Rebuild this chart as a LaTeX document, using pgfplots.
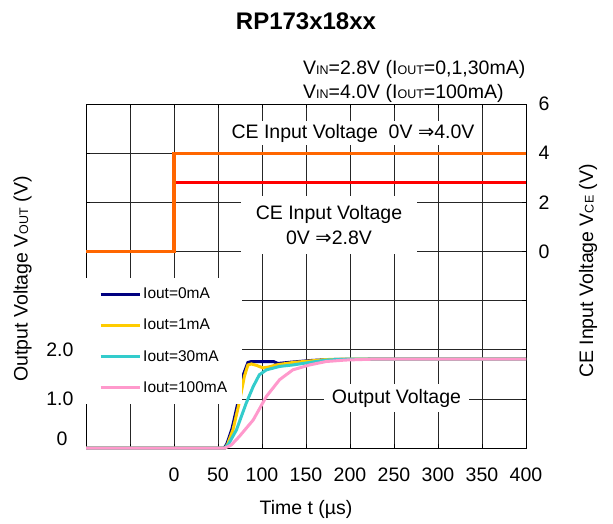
\documentclass[border=0pt]{standalone}
\usepackage{fontspec}
\setmainfont{Liberation Sans}
\newfontfamily\dejavu{DejaVu Sans}
\usepackage{pgfplots}
\pgfplotsset{compat=1.18}

\definecolor{ceorange}{RGB}{255,102,0}
\definecolor{cered}{RGB}{255,0,0}
\definecolor{ioutA}{RGB}{0,0,128}
\definecolor{ioutB}{RGB}{255,204,0}
\definecolor{ioutC}{RGB}{51,204,204}
\definecolor{ioutD}{RGB}{255,153,204}

\newcommand\sub[1]{\raisebox{-0.5pt}{\fontsize{12.5}{12.5}\selectfont #1}}
\newcommand\arr{{\dejavu ⇒}}
\newcommand\mainfs{\fontsize{19.5}{22}\selectfont}

\begin{document}
\begin{tikzpicture}
\path[use as bounding box] (0pt,0pt) rectangle (613pt,523pt);

% CE input voltage (right axis) with the grid
\begin{axis}[
  at={(86pt,75pt)}, anchor=south west,
  width=440pt, height=344pt, scale only axis,
  xmin=-100, xmax=400, ymin=-8, ymax=6,
  xtick={-100,-50,...,400},
  xticklabels={,,0,50,100,150,200,250,300,350,400},
  ytick={-8,-6,...,6},
  yticklabels={,,,,0,2,4,6},
  yticklabel pos=right,
  /pgf/number format/assume math mode=true,
  ticklabel style={font=\mainfs},
  xticklabel style={yshift=-16pt},
  yticklabel style={xshift=9pt},
  grid=major,
  major grid style={black!85, line width=0.7pt},
  major tick length=4pt,
  tick style={black, line width=0.7pt},
  axis line style={black, line width=1pt},
  clip=false,
]
\addplot[cered, line width=3.2pt] coordinates {(-100,0) (0,0) (0,2.8) (400,2.8)};
\addplot[ceorange, line width=3.2pt] coordinates {(-100,0) (0,0) (0,4) (400,4)};
\end{axis}

% text boxes over the grid
\node[fill=white, inner xsep=4pt, inner ysep=3pt, font=\mainfs] at (353pt,390pt) {CE Input Voltage\ \ 0V \arr4.0V};
\node[fill=white, minimum width=176pt, minimum height=58pt, align=center, font=\mainfs] at (329pt,298pt)
  {CE Input Voltage\\[3pt]0V \arr2.8V};
\node[fill=white, inner xsep=8pt, inner ysep=5pt, font=\mainfs] at (396.5pt,125pt) {Output Voltage};

% output voltage (left axis)
\begin{axis}[
  at={(86pt,75pt)}, anchor=south west,
  width=440pt, height=344pt, scale only axis,
  xmin=-100, xmax=400, ymin=0, ymax=7,
  xtick=\empty,
  ytick={1,2}, yticklabels={1.0,2.0},
  extra y ticks={0}, extra y tick labels={0},
  extra y tick style={yticklabel style={yshift=9pt, xshift=-6pt}},
  /pgf/number format/assume math mode=true,
  ticklabel style={font=\mainfs},
  yticklabel style={xshift=-9pt},
  axis line style={draw=none},
  tick style={draw=none},
  clip=false,
  legend cell align=left,
  legend style={at={(0,0.495)}, anchor=north west, fill=white, draw=none,
    font=\fontsize{15.5}{15.5}\selectfont, row sep=15pt, inner xsep=13pt, inner ysep=8pt},
  legend image code/.code={\draw[#1] (0pt,0pt) -- (39pt,0pt);},
]
\addplot[ioutA, line width=3pt] coordinates {
  (-100,0) (57,0) (60,0.08) (66,0.40) (73,0.95) (79,1.50) (84,1.74) (88,1.76)
  (113,1.76) (118,1.72) (135,1.75) (155,1.78) (175,1.80) (250,1.81) (400,1.81)};
\addlegendentry{Iout=0mA}
\addplot[ioutB, line width=3pt] coordinates {
  (-100,0) (58,0) (61,0.08) (67,0.37) (74,0.91) (80,1.46) (84,1.69) (88,1.71)
  (94,1.68) (101,1.63) (108,1.65) (116,1.69) (135,1.74) (154,1.77) (173,1.80)
  (200,1.81) (400,1.81)};
\addlegendentry{Iout=1mA}
\addplot[ioutC, line width=3pt] coordinates {
  (-100,0) (58,0) (62,0.08) (71,0.37) (82,0.91) (90,1.25) (97,1.49) (105,1.59)
  (120,1.66) (135,1.69) (154,1.74) (173,1.79) (200,1.81) (400,1.81)};
\addlegendentry{Iout=30mA}
\addplot[ioutD, line width=3pt] coordinates {
  (-100,0) (58,0) (65,0.06) (74,0.23) (90,0.57) (105,1.05) (120,1.39) (135,1.59)
  (154,1.69) (173,1.76) (195,1.79) (230,1.81) (400,1.81)};
\addlegendentry{Iout=100mA}
\end{axis}

% titles and labels
\node[font=\fontsize{24}{24}\selectfont\bfseries] at (306pt,501.5pt) {RP173x18xx};
\node[anchor=west, font=\mainfs, inner sep=0pt] at (303pt,454pt) {V\sub{IN}=2.8V (I\sub{OUT}=0,1,30mA)};
\node[anchor=west, font=\mainfs, inner sep=0pt] at (303pt,430pt) {V\sub{IN}=4.0V (I\sub{OUT}=100mA)};
\node[rotate=90, font=\mainfs] at (22.5pt,244pt) {Output Voltage V\sub{OUT} (V)};
\node[rotate=90, font=\mainfs] at (588pt,252pt) {CE Input Voltage V\sub{CE} (V)};
\node[font=\mainfs] at (306pt,14pt) {Time t (µs)};
\end{tikzpicture}
\end{document}
